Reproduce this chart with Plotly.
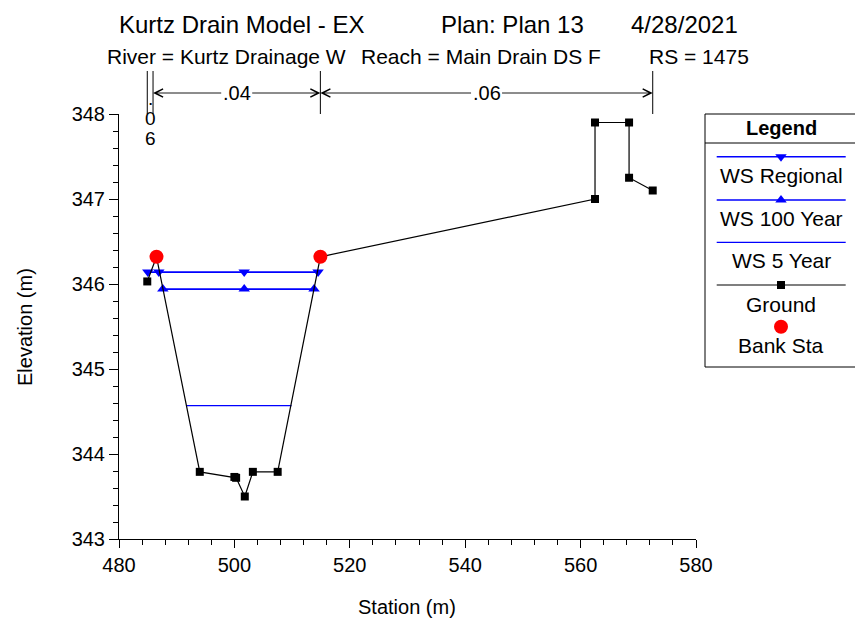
import plotly.graph_objects as go

# ---------------- data ----------------
station = [484.9, 486.5, 494.0, 500.0, 500.3, 501.8, 503.2, 507.5, 514.9,
           562.5, 562.5, 568.4, 568.4, 572.5]
ground = [346.03, 346.32, 343.79, 343.73, 343.72, 343.50, 343.79, 343.79, 346.32,
          347.00, 347.90, 347.90, 347.25, 347.10]
bank_sta = [486.5, 514.9]
bank_elev = [346.32, 346.32]
ws_regional_sta = [485.0, 486.9, 501.7, 514.5]
ws_regional_elev = 346.14
ws_100_sta = [487.6, 501.7, 513.8]
ws_100_elev = 345.94
ws_5_sta = [491.7, 509.9]
ws_5_elev = 344.57
n_breaks = [484.9, 485.9, 514.9, 572.5]
n_values = [".06", ".04", ".06"]

title_parts = ["Kurtz Drain Model - EX", "Plan: Plan 13", "4/28/2021"]
subtitle_parts = ["River = Kurtz Drainage W", "Reach = Main Drain DS F", "RS = 1475"]
legend_names = ["WS Regional", "WS 100 Year", "WS 5 Year", "Ground", "Bank Sta"]

# ---------------- layout helpers ----------------
W, H = 855, 624
ML, MT, MB = 119, 114, 85
PW = W - ML          # paper width (right margin 0)
PH = H - MT - MB     # paper height
PLOT_R = 696         # right edge of the main plot area (px)
FONT = "Liberation Sans, Arial, sans-serif"
BLUE = "#0000FF"

def xp(px):
    return (px - ML) / PW

def yp(py):
    return (MT + PH - py) / PH

fig = go.Figure()

# ---------------- main traces ----------------
fig.add_trace(go.Scatter(x=ws_5_sta, y=[ws_5_elev] * len(ws_5_sta), mode="lines",
                         line=dict(color=BLUE, width=1.3), showlegend=False))
fig.add_trace(go.Scatter(x=ws_100_sta, y=[ws_100_elev] * len(ws_100_sta), mode="lines+markers",
                         line=dict(color=BLUE, width=1.6),
                         marker=dict(symbol="triangle-up", size=10, color=BLUE), showlegend=False))
fig.add_trace(go.Scatter(x=ws_regional_sta, y=[ws_regional_elev] * len(ws_regional_sta),
                         mode="lines+markers", line=dict(color=BLUE, width=1.6),
                         marker=dict(symbol="triangle-down", size=10, color=BLUE), showlegend=False))
fig.add_trace(go.Scatter(x=station, y=ground, mode="lines+markers",
                         line=dict(color="black", width=1.2),
                         marker=dict(symbol="square", size=8, color="black"), showlegend=False))
fig.add_trace(go.Scatter(x=bank_sta, y=bank_elev, mode="markers",
                         marker=dict(symbol="circle", size=14, color="#FF0000"), showlegend=False))

# ---------------- legend (custom box, clipped by the right edge) ----------------
LG_L, LG_R, LG_T, LG_B = 705, 862, 114, 367
LG_C = 781
SW_L, SW_R = 716.7, 845.7
sw_y = [156.7, 200.0, 242.3, 285.0, 326.7]
tx_y = [175.7, 218.3, 260.7, 304.0, 345.7]
sw_style = [
    dict(line=BLUE, lw=1.6, sym="triangle-down", mc=BLUE, ms=10),
    dict(line=BLUE, lw=1.6, sym="triangle-up", mc=BLUE, ms=10),
    dict(line=BLUE, lw=1.3, sym=None, mc=None, ms=0),
    dict(line="black", lw=1.2, sym="square", mc="black", ms=8),
    dict(line=None, lw=0, sym="circle", mc="#FF0000", ms=14),
]
for yy, st in zip(sw_y, sw_style):
    if st["line"]:
        fig.add_trace(go.Scatter(x=[SW_L, SW_R], y=[yy, yy], mode="lines", xaxis="x2", yaxis="y2",
                                 line=dict(color=st["line"], width=st["lw"]), showlegend=False,
                                 hoverinfo="skip"))
    if st["sym"]:
        fig.add_trace(go.Scatter(x=[LG_C], y=[yy], mode="markers", xaxis="x2", yaxis="y2",
                                 marker=dict(symbol=st["sym"], size=st["ms"], color=st["mc"]),
                                 showlegend=False, hoverinfo="skip"))

annotations = []
shapes = []

shapes.append(dict(type="rect", xref="paper", yref="paper", x0=xp(LG_L), x1=xp(LG_R),
                   y0=yp(LG_B), y1=yp(LG_T), line=dict(color="black", width=1)))
shapes.append(dict(type="line", xref="paper", yref="paper", x0=xp(LG_L), x1=xp(LG_R),
                   y0=yp(143), y1=yp(143), line=dict(color="black", width=1)))
annotations.append(dict(text="<b>Legend</b>", x=xp(LG_C), y=yp(128), xref="paper", yref="paper",
                        showarrow=False, xanchor="center", yanchor="middle",
                        font=dict(family=FONT, size=20, color="black")))
for name, yy in zip(legend_names, tx_y):
    annotations.append(dict(text=name, x=xp(LG_C), y=yp(yy), xref="paper", yref="paper",
                            showarrow=False, xanchor="center", yanchor="middle",
                            font=dict(family=FONT, size=21, color="black")))

# ---------------- titles ----------------
for txt, lx in zip(title_parts, [117, 439, 629]):
    annotations.append(dict(text=txt, x=xp(lx), y=yp(25), xref="paper", yref="paper",
                            showarrow=False, xanchor="left", yanchor="middle",
                            font=dict(family=FONT, size=24, color="black")))
for txt, lx in zip(subtitle_parts, [105, 359, 647]):
    annotations.append(dict(text=txt, x=xp(lx), y=yp(56), xref="paper", yref="paper",
                            showarrow=False, xanchor="left", yanchor="middle",
                            font=dict(family=FONT, size=21, color="black")))

# axis titles
annotations.append(dict(text="Station (m)", x=xp(407), y=yp(607), xref="paper", yref="paper",
                        showarrow=False, xanchor="center", yanchor="middle",
                        font=dict(family=FONT, size=20, color="black")))
annotations.append(dict(text="Elevation (m)", x=xp(25), y=yp(327), xref="paper", yref="paper",
                        showarrow=False, xanchor="center", yanchor="middle", textangle=-90,
                        font=dict(family=FONT, size=20, color="black")))

# ---------------- Manning's n ruler ----------------
RULER_Y = 93
for s in n_breaks:
    shapes.append(dict(type="line", xref="x", yref="paper", x0=s, x1=s,
                       y0=yp(114), y1=yp(71), line=dict(color="black", width=1)))
for i, val in enumerate(n_values):
    a, b = n_breaks[i], n_breaks[i + 1]
    mid = (a + b) / 2
    if b - a > 5:
        for k, tip in enumerate((a, b)):
            col = "black" if k == 0 else "rgba(0,0,0,0)"
            annotations.append(dict(text=val, x=tip, y=yp(RULER_Y), xref="x", yref="paper",
                                    ax=mid, axref="x", ay=0, ayref="pixel",
                                    showarrow=True, arrowhead=5, arrowsize=1.8, arrowwidth=0.9,
                                    arrowcolor="black",
                                    font=dict(family=FONT, size=20, color=col)))
    else:
        for ch, yy in zip(val, [99, 118, 138]):
            annotations.append(dict(text=ch, x=mid, y=yp(yy), xref="x", yref="paper",
                                    showarrow=False, xanchor="center", yanchor="middle",
                                    font=dict(family=FONT, size=19, color="black")))

axis_common = dict(showgrid=False, zeroline=False, showline=True, linecolor="black", linewidth=1,
                   ticks="outside", tickcolor="black", tickwidth=1, automargin=False,
                   tickfont=dict(family=FONT, size=20, color="black"))

fig.update_layout(
    template="none",
    width=W, height=H, autosize=False,
    margin=dict(l=ML, r=0, t=MT, b=MB, pad=0, autoexpand=False),
    paper_bgcolor="white", plot_bgcolor="white",
    showlegend=False,
    xaxis=dict(domain=[0, (PLOT_R - ML) / PW], range=[480, 580], tick0=480, dtick=20, ticklen=8,
               minor=dict(dtick=4, ticklen=5, ticks="outside", tickcolor="black", tickwidth=1),
               anchor="y", **axis_common),
    yaxis=dict(domain=[0, 1], range=[343, 348], tick0=343, dtick=1, ticklen=9,
               minor=dict(dtick=0.2, ticklen=5, ticks="outside", tickcolor="black", tickwidth=1),
               anchor="x", **axis_common),
    xaxis2=dict(domain=[xp(LG_L), 1], range=[LG_L, W], visible=False, automargin=False,
                anchor="y2", fixedrange=True),
    yaxis2=dict(domain=[yp(LG_B), yp(LG_T)], range=[LG_B, LG_T], visible=False, automargin=False,
                anchor="x2", fixedrange=True),
    annotations=annotations,
    shapes=shapes,
)

post = ("document.documentElement.style.overflow='hidden';"
        "document.body.style.overflow='hidden';"
        "document.body.style.margin='0';")
fig.write_html("out.html", config={"responsive": False}, post_script=post)
